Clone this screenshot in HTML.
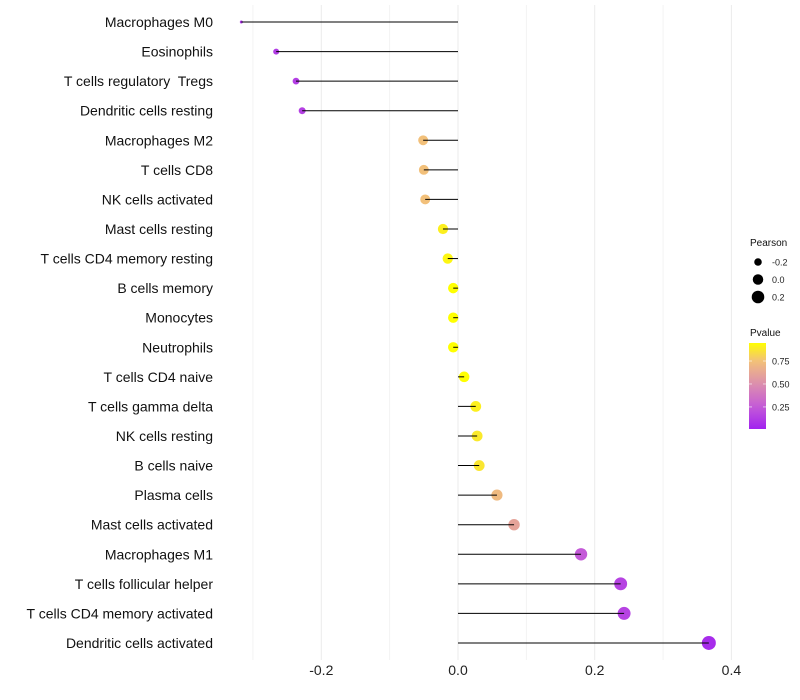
<!DOCTYPE html>
<html><head><meta charset="utf-8"><style>
body{margin:0;background:#fff;}
svg{display:block;font-family:"Liberation Sans",sans-serif;}
text{white-space:pre;}
</style></head><body>
<svg id="chart" width="800" height="700"></svg>
<script>
const categories=["Macrophages M0","Eosinophils","T cells regulatory  Tregs","Dendritic cells resting","Macrophages M2","T cells CD8","NK cells activated","Mast cells resting","T cells CD4 memory resting","B cells memory","Monocytes","Neutrophils","T cells CD4 naive","T cells gamma delta","NK cells resting","B cells naive","Plasma cells","Mast cells activated","Macrophages M1","T cells follicular helper","T cells CD4 memory activated","Dendritic cells activated"];
const pearson=[-0.317,-0.266,-0.237,-0.228,-0.051,-0.050,-0.048,-0.022,-0.015,-0.007,-0.007,-0.007,0.009,0.026,0.028,0.031,0.057,0.082,0.180,0.238,0.243,0.367];
const pvalue=[0.08,0.12,0.13,0.14,0.75,0.75,0.75,0.9,0.92,0.95,0.95,0.95,0.95,0.9,0.88,0.87,0.72,0.6,0.25,0.15,0.15,0.05];
const xTicks=[-0.2,0.0,0.2,0.4];
const xMinor=[-0.3,-0.1,0.1,0.3];
const sizeLegend=[-0.2,0.0,0.2];
const colorTicks=[0.25,0.5,0.75];

const NS="http://www.w3.org/2000/svg";
const svg=document.getElementById('chart');
function mk(t,a,p){const e=document.createElementNS(NS,t);for(const k in a)e.setAttribute(k,a[k]);(p||svg).appendChild(e);return e;}
const xs=v=>458+v*683.5;
const ys=i=>22+i*29.57;
const pMin=Math.min(...pearson),pMax=Math.max(...pearson);
const rs=v=>1.5+5.5*Math.sqrt(Math.max(0,(v-pMin)/(pMax-pMin)));
const stops=[[0.0,[160,32,240]],[0.25,[196,90,216]],[0.5,[220,143,174]],[0.75,[242,192,122]],[0.95,[255,255,0]]];
function col(p){
  if(p<=stops[0][0])return 'rgb('+stops[0][1]+')';
  for(let i=1;i<stops.length;i++){if(p<=stops[i][0]){const a=stops[i-1],b=stops[i];const t=(p-a[0])/(b[0]-a[0]);return 'rgb('+a[1].map((c,j)=>Math.round(c+(b[1][j]-c)*t)).join(',')+')';}}
  return 'rgb(255,255,0)';
}
xMinor.forEach(v=>{const l=mk('line',{x1:xs(v),x2:xs(v),y1:5,y2:660,stroke:'#f3f3f3','stroke-width':1});

});
xTicks.forEach(v=>{const l=mk('line',{x1:xs(v),x2:xs(v),y1:5,y2:660,stroke:'#ebebeb','stroke-width':1});


const t=mk('text',{x:xs(v),y:675,'text-anchor':'middle','font-size':14,fill:'#222'});t.textContent=v.toFixed(1);

});
categories.forEach((c,i)=>{
  const y=ys(i);
  const t=mk('text',{x:213,y:y+5,'text-anchor':'end','font-size':14,fill:'#111'});t.textContent=c;
  
  
  const d=mk('circle',{cx:xs(pearson[i]),cy:y,r:rs(pearson[i]),fill:col(pvalue[i])});
  
  
  const l=mk('line',{x1:xs(0),x2:xs(pearson[i]),y1:y,y2:y,stroke:'#000','stroke-width':1});
  
  
});
const lt=mk('text',{x:750,y:246,'font-size':10,fill:'#111'});lt.textContent='Pearson';


sizeLegend.forEach((v,i)=>{const y=262+i*17.5;
  const c=mk('circle',{cx:758,cy:y,r:rs(v),fill:'#000'});
  
  
  const t=mk('text',{x:772,y:y+3.5,'font-size':9,fill:'#222'});t.textContent=v.toFixed(1);
  
  });
const ct=mk('text',{x:750,y:336,'font-size':10,fill:'#111'});ct.textContent='Pvalue';


const defs=mk('defs',{});const grad=mk('linearGradient',{id:'pg',x1:0,y1:1,x2:0,y2:0},defs);
const pTop=0.946,pBot=0.01,barTop=343,barBot=429;
for(let k=0;k<=10;k++){const p=pBot+(pTop-pBot)*k/10;mk('stop',{offset:k/10,'stop-color':col(p)},grad);}
const bar=mk('rect',{x:749,y:barTop,width:17,height:barBot-barTop,fill:'url(#pg)'});


colorTicks.forEach(p=>{const y=barBot-(p-pBot)/(pTop-pBot)*(barBot-barTop);
  mk('line',{x1:749,x2:752,y1:y,y2:y,stroke:'#fff','stroke-width':0.6});
  mk('line',{x1:763,x2:766,y1:y,y2:y,stroke:'#fff','stroke-width':0.6});
  const t=mk('text',{x:772,y:y+3.5,'font-size':9,fill:'#222'});t.textContent=p.toFixed(2);
  
  });
</script>
</body></html>
